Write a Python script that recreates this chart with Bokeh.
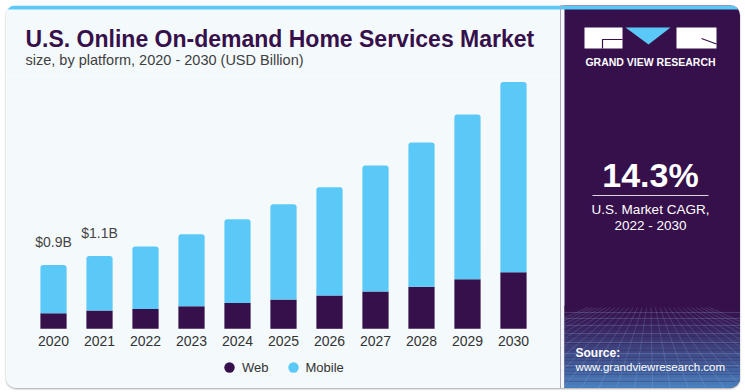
import numpy as np
from bokeh.plotting import figure
from bokeh.models import (ColumnDataSource, Range1d, FactorRange, Row, Column,
                          Legend, LegendItem)
from bokeh.core.properties import value
from bokeh.transform import stack
from bokeh.embed import file_html
from bokeh.resources import INLINE

# ---------------- data ----------------
years = ["2020", "2021", "2022", "2023", "2024", "2025",
         "2026", "2027", "2028", "2029", "2030"]
web = [0.23, 0.27, 0.29, 0.33, 0.38, 0.43, 0.49, 0.55, 0.62, 0.73, 0.83]
mobile = [0.71, 0.80, 0.92, 1.06, 1.23, 1.40, 1.59, 1.85, 2.12, 2.42, 2.80]
series = ["Web", "Mobile"]
label_years = ["2020", "2021"]
label_texts = ["$0.9B", "$1.1B"]

title_text = "U.S. Online On-demand Home Services Market"
subtitle_text = "size, by platform, 2020 - 2030 (USD Billion)"
brand_text = "GRAND VIEW RESEARCH"
cagr_text = "14.3%"
cagr_lines = ["U.S. Market CAGR,", "2022 - 2030"]
source_lines = ["Source:", "www.grandviewresearch.com"]

# ---------------- style ----------------
FONT_NAME = "Liberation Sans"
FONT = value(FONT_NAME)
BG = "#F4F9FC"
WEB_C = "#36104A"
MOB_C = "#5BC9F7"
PANEL = "#36104A"
STRIPE = "#5BC9F7"

W_L, W_R, H = 554, 180, 383
H_HEAD = 70
H_BARS = H - H_HEAD
PX_PER_B = 68.0
BASE = 253.3  # bar baseline, px from top of the bars canvas

COMMON = dict(output_backend="svg", toolbar_location=None,
              x_axis_location=None, y_axis_location=None, title_location=None,
              min_border=0, min_border_left=0, min_border_right=0,
              min_border_top=0, min_border_bottom=0, outline_line_color=None)

# ---------------- header (title) ----------------
head = figure(width=W_L, height=H_HEAD, x_range=Range1d(0, W_L),
              y_range=Range1d(H_HEAD, 0), background_fill_color=BG,
              border_fill_color=BG, **COMMON)
head.grid.visible = False
head.quad(left=[0], right=[W_L], top=[0], bottom=[4], fill_color=STRIPE,
          line_color=None)
head.text(x=[19], y=[33.7], text=[title_text], text_font=FONT,
          text_font_style="bold", text_font_size="23px", text_color=WEB_C,
          text_baseline="middle")
head.text(x=[19], y=[54.2], text=[subtitle_text], text_font=FONT,
          text_font_size="14.5px", text_color="#404040",
          text_baseline="middle")

# ---------------- bars ----------------
bars = figure(
    width=W_L, height=H_BARS,
    x_range=FactorRange(factors=years, range_padding=0.522,
                        range_padding_units="absolute"),
    y_range=Range1d(-(H_BARS - BASE) / PX_PER_B, BASE / PX_PER_B),
    background_fill_color=BG, border_fill_color=BG, **COMMON)
bars.grid.visible = False

src = ColumnDataSource(dict(year=years, web=web, mobile=mobile))
bars.vbar(x="year", bottom=0, top="web", width=0.57, source=src,
          fill_color=WEB_C, line_color=None)
bars.vbar(x="year", bottom="web", top=stack("web", "mobile"), width=0.57,
          source=src, fill_color=MOB_C, line_color=None,
          border_radius=(3, 3, 0, 0))

# data labels
lab_tot = [web[years.index(y)] + mobile[years.index(y)] for y in label_years]
bars.text(x=label_years, y=lab_tot, text=label_texts, text_font=FONT,
          text_font_size="14px", text_color="#444444", text_align="center",
          text_baseline="middle", y_offset=-23)

# year (category) labels just below the baseline
bars.text(x=years, y=[0] * len(years), text=years, y_offset=12,
          text_font=FONT, text_font_size="14px", text_color="#333333",
          text_align="center", text_baseline="middle")

# legend (size-0 markers: only their legend glyphs are visible)
r_web = bars.scatter(x="year", y="web", source=src, size=0, marker="circle",
                     fill_color=WEB_C, line_color=None)
r_mob = bars.scatter(x="year", y=stack("web", "mobile"), source=src, size=0,
                     marker="circle", fill_color=MOB_C, line_color=None)
legend = Legend(items=[LegendItem(label=series[0], renderers=[r_web]),
                       LegendItem(label=series[1], renderers=[r_mob])],
                orientation="horizontal", location=(210, 8),
                glyph_width=26, glyph_height=26, label_standoff=-3,
                spacing=11, padding=0, margin=0,
                label_text_font=FONT_NAME, label_text_font_size="13px",
                label_text_color="#333333",
                background_fill_alpha=0, border_line_color=None)
bars.add_layout(legend)

# ---------------- right panel ----------------
right = figure(width=W_R, height=H, x_range=Range1d(0, W_R),
               y_range=Range1d(H, 0), background_fill_color=PANEL,
               border_fill_color=PANEL, **COMMON)
right.grid.visible = False

right.quad(left=[0], right=[4], top=[0], bottom=[H], fill_color=BG,
           line_color=None)

# bottom gradient texture
n_b = 24
ys = np.linspace(300, H, n_b + 1)
c0 = np.array([0x36, 0x10, 0x4A], dtype=float)
c1 = np.array([0x48, 0x80, 0xBE], dtype=float)
cols = []
for i in range(n_b):
    t = (i / (n_b - 1)) ** 1.2
    c = (c0 + (c1 - c0) * t).astype(int)
    cols.append("#%02x%02x%02x" % tuple(c))
right.quad(left=[4] * n_b, right=[W_R] * n_b, top=list(ys[:-1]),
           bottom=list(ys[1:]), fill_color=cols, line_color=None)
hy = [307, 313, 320, 328, 337, 348, 360, 373]
right.segment(x0=[4] * len(hy), x1=[W_R] * len(hy), y0=hy, y1=hy,
              line_color="#a8d4f5", line_alpha=0.2, line_width=1)
bx = list(range(-160, 340, 18))
right.segment(x0=[90 + (x - 90) * 0.25 for x in bx], y0=[302] * len(bx),
              x1=bx, y1=[H] * len(bx), line_color="#a8d4f5", line_alpha=0.18,
              line_width=1)

right.quad(left=[0], right=[W_R], top=[0], bottom=[4], fill_color=STRIPE,
           line_color=None)

# logo
right.quad(left=[24, 116], right=[62, 156], top=[22, 22], bottom=[43, 43],
           fill_color="white", line_color=None)
right.patch(x=[65, 110, 88], y=[22, 22, 39], fill_color=STRIPE,
            line_color=None)
right.line(x=[62, 42, 42], y=[34, 34, 43], line_color=PANEL, line_width=1.2)
right.line(x=[141, 156], y=[33, 38.5], line_color=PANEL, line_width=1.2)
right.text(x=[90], y=[56], text=[brand_text], text_font=FONT,
           text_font_style="bold", text_font_size="10.5px",
           text_color="white", text_align="center", text_baseline="middle")

# CAGR block
right.text(x=[90], y=[169.7], text=[cagr_text], text_font=FONT,
           text_font_style="bold", text_font_size="34px", text_color="white",
           text_align="center", text_baseline="middle")
right.segment(x0=[32], x1=[148], y0=[190], y1=[190], line_color="#d8d4e0",
              line_width=1.2)
right.text(x=[90, 90], y=[204, 220], text=cagr_lines, text_font=FONT,
           text_font_size="13.5px", text_color="white", text_align="center",
           text_baseline="middle")

# source
right.text(x=[15], y=[347], text=[source_lines[0]], text_font=FONT,
           text_font_style="bold", text_font_size="12px", text_color="white",
           text_baseline="middle")
right.text(x=[15], y=[361], text=[source_lines[1]], text_font=FONT,
           text_font_size="11.5px", text_color="white",
           text_baseline="middle")

layout = Row(children=[Column(children=[head, bars], spacing=0), right],
             spacing=0,
             styles={"border-radius": "10px", "overflow": "hidden",
                     "margin": "5px 0 0 6px",
                     "box-shadow": "0 1px 2px rgba(0,0,0,0.35)"})

open("out.html", "w").write(file_html(layout, INLINE))
